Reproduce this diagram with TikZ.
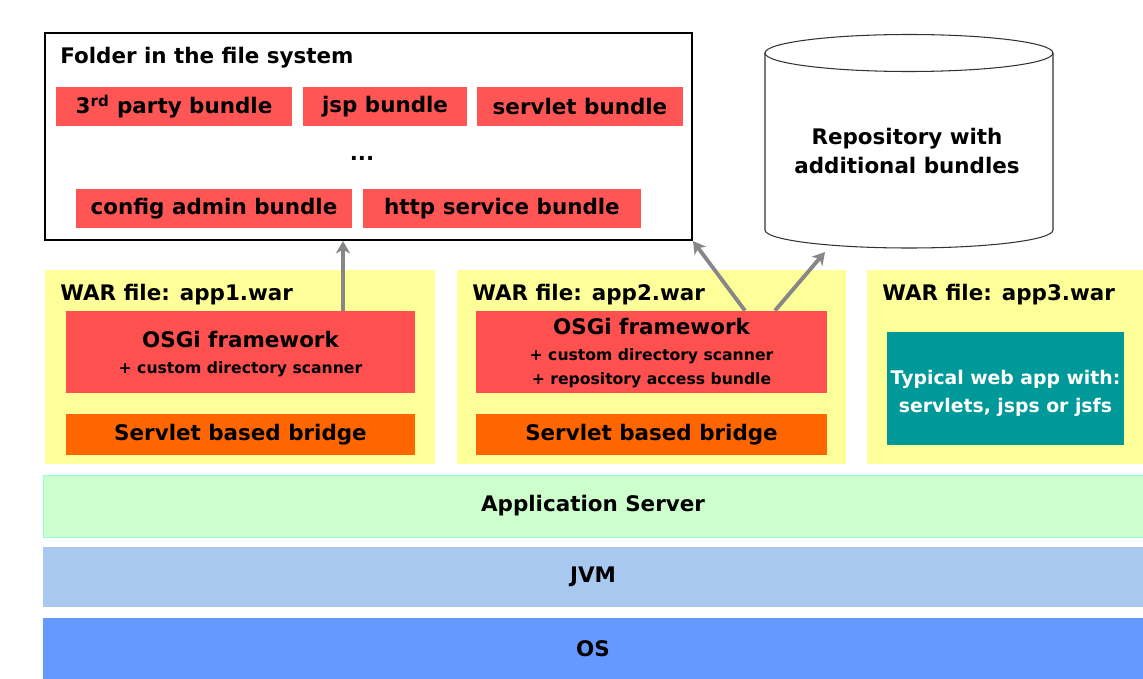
\documentclass[tikz,border=0pt]{standalone}
\usepackage{fontspec}
\setmainfont{DejaVu Sans}
\usetikzlibrary{arrows.meta,calc}

\definecolor{bundlered}{RGB}{255,85,85}
\definecolor{osgired}{RGB}{255,80,80}
\definecolor{bridgeorange}{RGB}{255,102,0}
\definecolor{waryellow}{RGB}{255,255,153}
\definecolor{webteal}{RGB}{0,153,153}
\definecolor{servergreen}{RGB}{204,255,204}
\definecolor{jvmblue}{RGB}{168,200,240}
\definecolor{osblue}{RGB}{102,153,255}
\definecolor{arrowgray}{RGB}{135,135,135}

\begin{document}
\begin{tikzpicture}[x=0.02cm, y=0.02cm,
  every node/.style={font=\bfseries\fontsize{12.2}{16}\selectfont, inner sep=0pt},
  bundle/.style={fill=bundlered, minimum height=0.78cm},
  war/.style={fill=waryellow, minimum height=3.88cm},
  osgi/.style={fill=osgired, minimum height=1.64cm},
  osgitext/.style={align=center, font=\bfseries\fontsize{8.9}{13.6}\selectfont},
  bridge/.style={fill=bridgeorange, minimum height=0.82cm},
  layer/.style={minimum width=22cm, minimum height=1.22cm},
  fetch/.style={draw=arrowgray, line width=2.2pt, -{Stealth[length=7pt,width=8pt,inset=2pt]}}]

\useasboundingbox (0,0) rectangle (1143,-679);
\fill[white] (0,0) rectangle (1143,-679);

% folder with the bundles
\node[draw, line width=1.2pt, minimum width=12.94cm, minimum height=4.14cm] (folder) at (368.5,-136.5) {};
\node[anchor=west] (foldertitle) at (60,-58) {Folder in the file system};
\node[bundle, minimum width=4.72cm] (party) at (174,-106.5) {3\textsuperscript{rd} party bundle};
\node[bundle, minimum width=3.28cm] (jsp) at (385,-106.5) {jsp bundle};
\node[bundle, minimum width=4.12cm] (servlet) at (580,-106.5) {servlet bundle};
\node (dots) at (362,-158) {...};
\node[bundle, minimum width=5.52cm] (config) at (214,-208.5) {config admin bundle};
\node[bundle, minimum width=5.56cm] (http) at (502,-208.5) {http service bundle};

% repository
\filldraw[fill=white, draw=black!80, line width=0.6pt] (765,-53) -- (765,-230)
  arc[start angle=180, end angle=360, x radius=144, y radius=18] -- (1053,-53);
\draw[black!80, line width=0.6pt] (909,-53) ellipse[x radius=144, y radius=18.5];
\node[align=center] (repo) at (907,-151) {Repository with\\additional bundles};
\coordinate (repoin) at (825,-252);

% war files
\node[war, minimum width=7.8cm] (war1) at (240,-367) {};
\node[war, minimum width=7.78cm] (war2) at (651.5,-367) {};
\node[war, minimum width=5.52cm] (war3) at (1005,-367) {};
\node[anchor=west] (war1label) at (60,-295) {WAR file: app1.war};
\node[anchor=west] (war2label) at (472,-295) {WAR file: app2.war};
\node[anchor=west] (war3label) at (882,-295) {WAR file: app3.war};

\node[osgi, minimum width=6.98cm] (osgi1) at (240.5,-352) {};
\node[osgitext] (osgi1text) at (240.5,-354)
  {{\fontsize{12.2}{13.6}\selectfont OSGi framework}\\[0.8pt] + custom directory scanner};
\node[osgi, minimum width=7.02cm] (osgi2) at (651.5,-352) {};
\node[osgitext] (osgi2text) at (651.5,-353)
  {{\fontsize{12.2}{13.6}\selectfont OSGi framework}\\[0.8pt] + custom directory scanner\\ + repository access bundle};
\node[bridge, minimum width=6.98cm] (bridge1) at (240.5,-434.5) {Servlet based bridge};
\node[bridge, minimum width=7.02cm] (bridge2) at (651.5,-434.5) {Servlet based bridge};
\node[fill=webteal, minimum width=4.74cm, minimum height=2.26cm] (webapp) at (1005.5,-388.5) {};
\node[text=white, align=center, font=\bfseries\fontsize{10.7}{16}\selectfont] (webapptext) at (1005.5,-393)
  {Typical web app with:\\servlets, jsps or jsfs};

% layers
\node[layer, fill=servergreen, draw=servergreen!70!cyan, minimum height=1.24cm] (appserver) at (593,-506) {Application Server};
\node[layer, fill=jvmblue, minimum height=1.2cm] (jvm) at (593,-577) {JVM};
\node[layer, fill=osblue] (os) at (593,-648.5) {OS};

% lookups
\draw[fetch] ([xshift=2.05cm]osgi1.north) -- ([xshift=2.05cm]osgi1.north |- folder.south);
\draw[fetch] ([xshift=1.87cm]osgi2.north) -- (folder.south east);
\draw[fetch] ([xshift=2.47cm]osgi2.north) -- (repoin);
\end{tikzpicture}
\end{document}
